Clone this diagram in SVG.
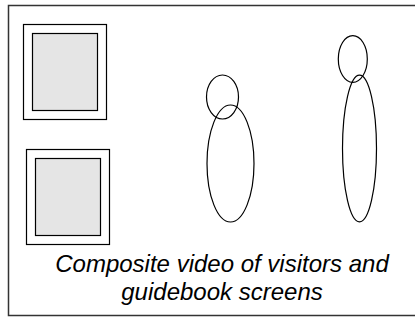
<svg xmlns="http://www.w3.org/2000/svg" width="415" height="325" viewBox="0 0 415 325">
<style>
.frame{fill:#fff;stroke:#333;stroke-width:1.5}
.outer{fill:#fff;stroke:#000;stroke-width:1.2}
.inner{fill:#e5e5e5;stroke:#000;stroke-width:1.2}
.fig{fill:none;stroke:#000;stroke-width:1.2}
.lbl{font-family:"Liberation Sans",Arial,sans-serif;font-style:italic;font-size:24px;fill:#000;text-anchor:middle}
</style>
<rect class="frame" x="8.5" y="5.5" width="430" height="310"/>
<g id="screen1">
<rect class="outer" x="23.5" y="24.5" width="83" height="95"/>
<rect class="inner" x="32.5" y="33.5" width="65" height="77"/>
</g>
<g id="screen2">
<rect class="outer" x="26.5" y="149.5" width="83" height="95"/>
<rect class="inner" x="35.5" y="158.5" width="65" height="77"/>
</g>
<g id="visitor1">
<ellipse class="fig" cx="222.5" cy="97" rx="16" ry="22"/>
<ellipse class="fig" cx="230.5" cy="163.5" rx="23.5" ry="58.5"/>
</g>
<g id="visitor2">
<ellipse class="fig" cx="352.8" cy="59" rx="14.5" ry="23.3"/>
<ellipse class="fig" cx="359.5" cy="148.5" rx="17" ry="73.3"/>
</g>
<g id="connectors"></g>
<g id="caption">
<text class="lbl" x="222" y="272">Composite video of visitors and</text>
<text class="lbl" x="222" y="300">guidebook screens</text>
</g>
</svg>
